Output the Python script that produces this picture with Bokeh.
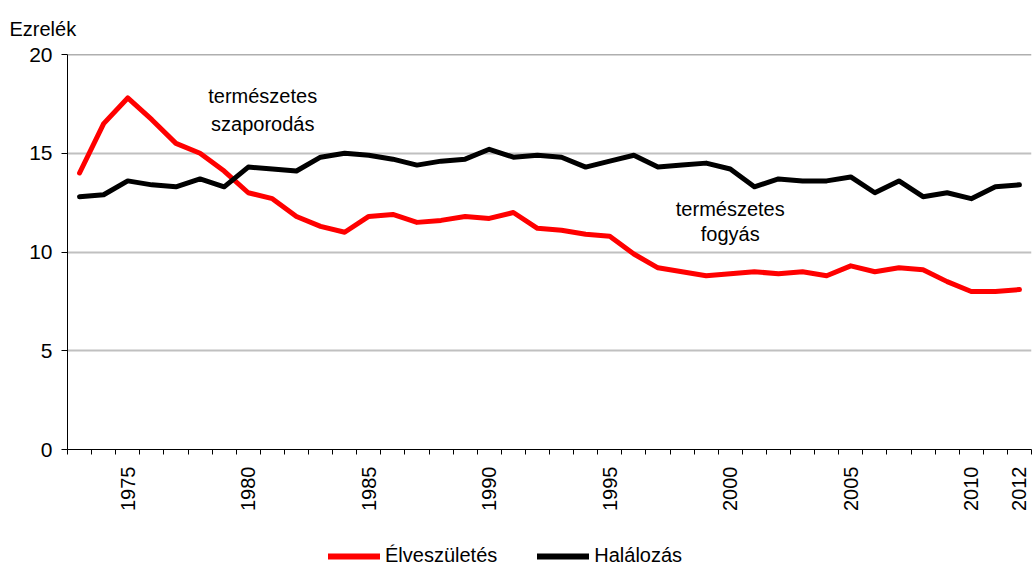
import math
from bokeh.plotting import figure
from bokeh.layouts import column
from bokeh.models import (ColumnDataSource, Range1d, FixedTicker, Legend, LegendItem, Span)
from bokeh.core.properties import value
from bokeh.embed import file_html
from bokeh.resources import INLINE

# ---- data ----
years = list(range(1973, 2013))
elveszuletes = [14.0, 16.5, 17.8, 16.7, 15.5, 15.0, 14.1, 13.0, 12.7, 11.8,
                11.3, 11.0, 11.8, 11.9, 11.5, 11.6, 11.8, 11.7, 12.0, 11.2,
                11.1, 10.9, 10.8, 9.9, 9.2, 9.0, 8.8, 8.9, 9.0, 8.9,
                9.0, 8.8, 9.3, 9.0, 9.2, 9.1, 8.5, 8.0, 8.0, 8.1]
halalozas = [12.8, 12.9, 13.6, 13.4, 13.3, 13.7, 13.3, 14.3, 14.2, 14.1,
             14.8, 15.0, 14.9, 14.7, 14.4, 14.6, 14.7, 15.2, 14.8, 14.9,
             14.8, 14.3, 14.6, 14.9, 14.3, 14.4, 14.5, 14.2, 13.3, 13.7,
             13.6, 13.6, 13.8, 13.0, 13.6, 12.8, 13.0, 12.7, 13.3, 13.4]
x_tick_labels = [1975, 1980, 1985, 1990, 1995, 2000, 2005, 2010, 2012]
y_ticks = [0, 5, 10, 15, 20]
series_names = ["Élveszületés", "Halálozás"]
series_colors = ["#ff0000", "#000000"]
ann_text = ["természetes", "szaporodás", "természetes", "fogyás"]
ann_x = [1980.6, 1980.6, 2000.0, 2000.0]
ann_y = [17.9, 16.5, 12.2, 10.9]

FONT = "Liberation Sans"
W = 1032
LEG_H = 30

p = figure(width=W, height=567 - LEG_H, output_backend="svg", toolbar_location=None,
           x_range=Range1d(years[0] - 0.5, years[-1] + 0.5), y_range=Range1d(0, 20),
           min_border_left=67, min_border_right=1, min_border_top=53,
           min_border_bottom=567 - LEG_H - 449)
p.outline_line_color = None
p.background_fill_color = "white"
p.border_fill_color = "white"

# y-axis caption as the title, top-left
p.title.text = "Ezrelék"
p.title.align = "left"
p.title.offset = -58
p.title.standoff = 30
p.title.text_font = FONT
p.title.text_font_size = "20px"
p.title.text_font_style = "normal"
p.title.text_color = "black"

src = ColumnDataSource(dict(x=years, a=elveszuletes, b=halalozas))
r1 = p.line("x", "a", source=src, line_color=series_colors[0], line_width=5,
            line_join="round", line_cap="round")
r2 = p.line("x", "b", source=src, line_color=series_colors[1], line_width=5,
            line_join="round", line_cap="round")

# axes
xa = p.xaxis[0]
xa.ticker = FixedTicker(ticks=x_tick_labels,
                        minor_ticks=[years[0] - 0.5 + i for i in range(len(years) + 1)])
xa.major_tick_out = 0
xa.major_tick_in = 0
xa.minor_tick_out = 5
xa.minor_tick_in = 0
xa.minor_tick_line_color = "black"
xa.axis_line_color = "black"
xa.major_label_orientation = math.pi / 2
xa.major_label_standoff = 12
xa.major_label_text_font = FONT
xa.major_label_text_font_size = "20px"
xa.major_label_text_color = "black"

ya = p.yaxis[0]
ya.ticker = FixedTicker(ticks=y_ticks)
ya.major_tick_out = 6
ya.major_tick_in = 0
ya.minor_tick_out = 0
ya.minor_tick_in = 0
ya.axis_line_color = "black"
ya.major_label_standoff = 9
ya.major_label_text_font = FONT
ya.major_label_text_font_size = "21px"
ya.major_label_text_color = "black"

p.xgrid.visible = False
p.ygrid.ticker = FixedTicker(ticks=y_ticks[1:-1])
p.ygrid.grid_line_color = "#c0c0c0"
p.ygrid.grid_line_width = 2

p.add_layout(Span(location=20, dimension="width", line_color="#606060", line_width=1.5))

# annotations
asrc = ColumnDataSource(dict(x=ann_x, y=ann_y, t=ann_text))
p.text("x", "y", text="t", source=asrc, text_align="center", text_baseline="middle",
       text_font=value(FONT), text_font_size="20px", text_color="black")

# ---- legend strip below the chart (frames of a column are aligned) ----
pl = figure(width=W, height=LEG_H, output_backend="svg", toolbar_location=None,
            x_range=Range1d(0, 1), y_range=Range1d(0, 1), min_border=0)
pl.axis.visible = False
pl.grid.visible = False
pl.outline_line_color = None
# same series, outside this strip's ranges: only their legend glyphs show
l1 = pl.line("x", "a", source=src, line_color=series_colors[0], line_width=6, line_cap="round")
l2 = pl.line("x", "b", source=src, line_color=series_colors[1], line_width=6, line_cap="round")
legend = Legend(items=[LegendItem(label=series_names[0], renderers=[l1]),
                       LegendItem(label=series_names[1], renderers=[l2])],
                orientation="horizontal", location=(261, 0),
                label_text_font=FONT, label_text_font_size="20px", label_text_color="black",
                glyph_width=52, glyph_height=20, label_standoff=5, spacing=40,
                border_line_color=None, background_fill_alpha=0, padding=0, margin=0)
pl.add_layout(legend)

open("out.html", "w").write(file_html(column(p, pl, spacing=0), INLINE))
